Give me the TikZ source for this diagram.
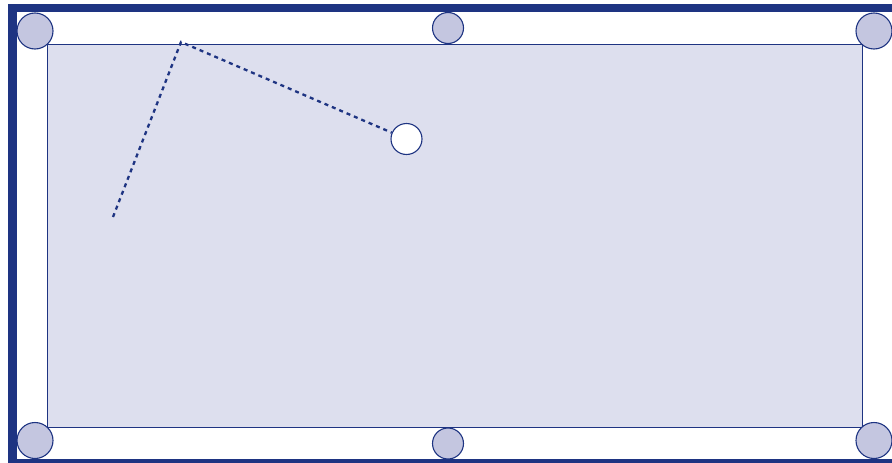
\documentclass[tikz,border=0pt]{standalone}
\usetikzlibrary{arrows.meta}

\definecolor{rail}{RGB}{30,52,130}
\definecolor{pocketfill}{RGB}{196,198,224}
\definecolor{felt}{RGB}{221,223,238}

\begin{document}
\begin{tikzpicture}[
    x=1pt, y=-1pt,
    pocket/.style={circle, draw=rail, fill=pocketfill, line width=1.1pt, inner sep=0pt, minimum size=36pt},
    midpocket/.style={pocket, minimum size=31pt},
    ball/.style={circle, draw=rail, fill=white, line width=1.1pt, inner sep=0pt, minimum size=31pt},
    shot/.style={draw=rail, line width=2.3pt, dash pattern=on 4pt off 4pt}
]
    \useasboundingbox (0,0) rectangle (892,463);
    \clip (0,0) rectangle (892,463);

    % 外框 (粗边)
    \draw[rail, line width=8.5pt, fill=white] (12.5,8) rectangle (896.5,463.5);

    % 台面
    \draw[rail, line width=0.9pt, fill=felt] (47,44) rectangle (862,427.5);

    % 袋口 (6个)
    \node[pocket]    (TL) at (35,31) {};      % 左上
    \node[midpocket] (TM) at (448,28) {};     % 上中
    \node[pocket]    (TR) at (874,31) {};     % 右上
    \node[pocket]    (BL) at (35,440.5) {};   % 左下
    \node[midpocket] (BM) at (448,443.5) {};  % 下中
    \node[pocket]    (BR) at (874,440.5) {};  % 右下

    % 球
    \node[ball] (B) at (406.5,139) {};

    % 路线: 起点 -> 反弹点 -> 球
    \coordinate (S) at (113,217);
    \coordinate (K) at (181,42);
    \draw[shot] (S) -- (K) -- (B);

\end{tikzpicture}
\end{document}
